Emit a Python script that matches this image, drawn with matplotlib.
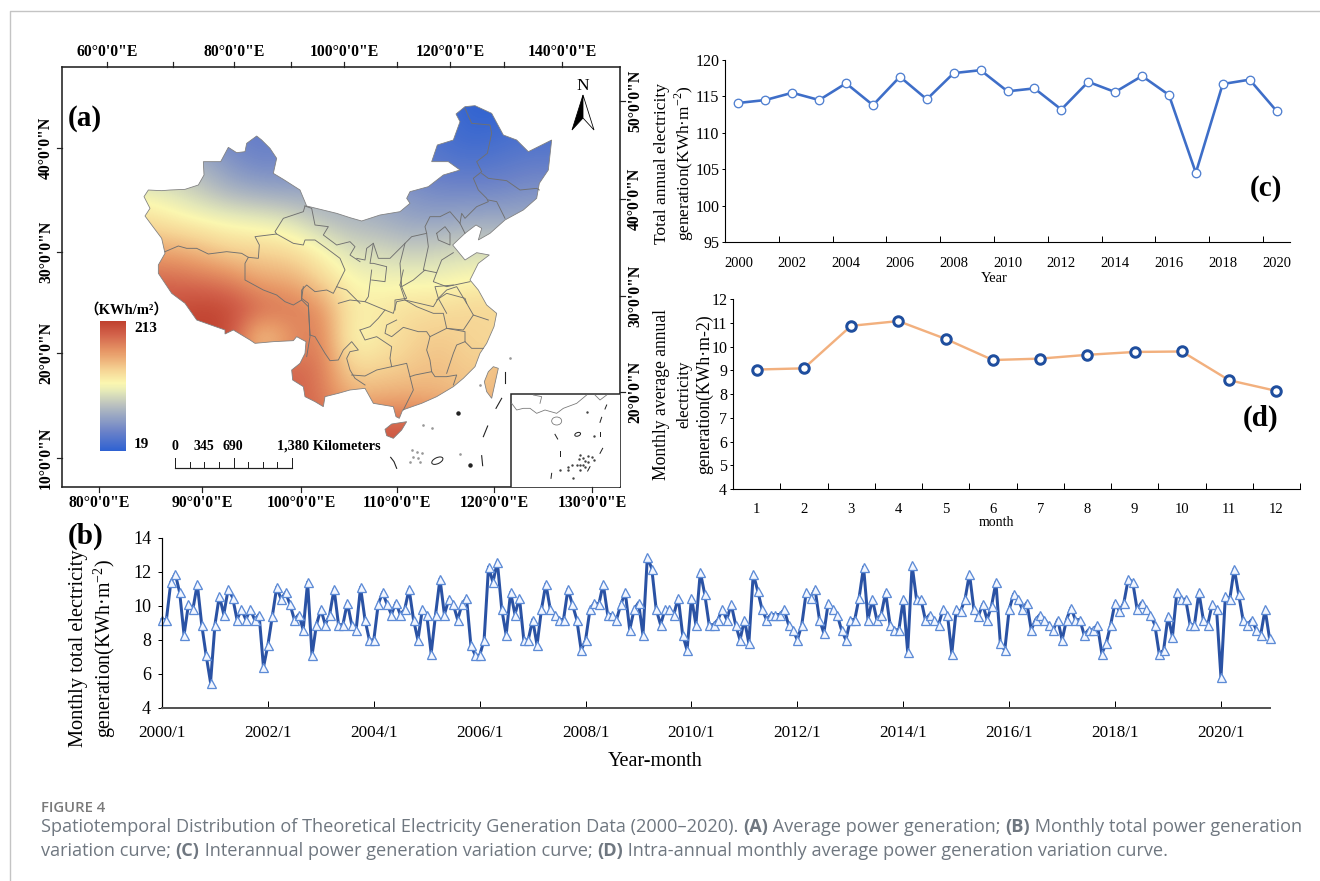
import numpy as np
import matplotlib
matplotlib.use("Agg")
import matplotlib.pyplot as plt
from matplotlib.colors import LinearSegmentedColormap, Normalize
from matplotlib.cm import ScalarMappable
from matplotlib.patches import PathPatch, Polygon, Ellipse, Rectangle
from matplotlib.path import Path

plt.rcParams['font.family'] = ['Liberation Serif', 'Noto Sans CJK SC', 'DejaVu Sans']
plt.rcParams['mathtext.fontset'] = 'custom'
plt.rcParams['mathtext.rm'] = 'Liberation Serif'

# monthly series 2000/1 - 2020/12, two years per row
monthly = [
    9.2, 9.2, 11.4, 11.9, 10.8, 8.3, 10.1, 9.8, 11.3, 8.9, 7.1, 5.5, 8.9, 10.6, 9.5, 11.0, 10.5, 9.2, 9.8, 9.2, 9.8, 9.2, 9.5, 6.4,
    7.7, 9.4, 11.1, 10.4, 10.8, 10.1, 9.2, 9.5, 8.6, 11.4, 7.1, 8.9, 9.8, 8.9, 9.5, 11.0, 8.9, 8.9, 10.2, 8.9, 8.6, 11.1, 9.2, 8.0,
    8.0, 10.1, 10.8, 10.1, 9.5, 10.2, 9.5, 9.8, 11.0, 9.2, 8.0, 9.8, 9.5, 7.2, 9.5, 11.6, 9.5, 10.4, 10.1, 9.2, 10.1, 10.5, 7.7, 7.1,
    7.1, 8.0, 12.3, 11.4, 12.6, 9.8, 8.3, 10.8, 9.5, 10.5, 8.0, 8.0, 9.2, 7.7, 9.8, 11.3, 9.8, 9.5, 9.2, 9.2, 11.0, 10.1, 9.2, 7.4,
    8.0, 9.8, 10.2, 10.1, 11.3, 9.5, 9.5, 9.2, 10.1, 10.8, 8.6, 9.8, 10.2, 8.3, 12.9, 12.2, 9.8, 8.9, 9.8, 9.8, 9.5, 10.5, 8.3, 7.4,
    10.5, 8.9, 12.0, 10.7, 8.9, 8.9, 9.2, 9.8, 9.2, 10.1, 8.9, 8.0, 9.2, 7.8, 11.9, 10.9, 9.8, 9.2, 9.5, 9.5, 9.5, 9.8, 8.9, 8.6,
    8.0, 8.9, 10.8, 10.5, 11.0, 9.2, 8.4, 10.2, 9.8, 9.5, 8.6, 8.0, 9.2, 9.2, 10.5, 12.3, 9.2, 10.4, 9.2, 9.5, 10.8, 8.9, 8.6, 8.6,
    10.4, 7.3, 12.4, 10.4, 10.4, 9.2, 9.5, 9.2, 8.9, 9.8, 9.5, 7.2, 9.8, 9.7, 10.4, 11.9, 9.8, 9.4, 10.1, 9.2, 10.0, 11.4, 7.8, 7.4,
    9.8, 10.7, 10.4, 9.8, 10.2, 8.6, 9.2, 9.5, 9.2, 8.9, 8.6, 9.2, 8.0, 9.2, 9.9, 9.2, 9.2, 8.3, 8.6, 8.6, 8.9, 7.2, 7.8, 8.9,
    10.2, 9.7, 10.2, 11.6, 11.4, 9.8, 10.2, 9.8, 9.5, 8.9, 7.2, 7.4, 9.4, 8.2, 10.8, 10.4, 10.4, 8.9, 8.9, 10.8, 9.2, 8.9, 10.1, 9.8,
    5.8, 10.6, 10.4, 12.2, 10.7, 9.2, 8.9, 9.2, 8.6, 8.3, 9.8, 8.1,
]
monthly_ticks = ['2000/1', '2002/1', '2004/1', '2006/1', '2008/1', '2010/1', '2012/1', '2014/1', '2016/1', '2018/1', '2020/1']

years = list(range(2000, 2021))
annual = [114.1, 114.5, 115.5, 114.5, 116.8, 113.8, 117.7, 114.6, 118.2, 118.6, 115.7, 116.1, 113.2, 117.0, 115.6, 117.8, 115.2, 104.5, 116.7, 117.3, 113.0]

months = list(range(1, 13))
month_avg = [9.03, 9.08, 10.87, 11.07, 10.32, 9.43, 9.49, 9.65, 9.77, 9.79, 8.58, 8.13]

# coarse reading of the raster, kWh/m2; nodes every 30 px from (140, 100)
raster_x = [140, 170, 200, 230, 260, 290, 320, 350, 380, 410, 440, 470, 500, 530, 560]
raster_y = [100, 130, 160, 190, 220, 250, 280, 310, 340, 370, 400, 430]
raster = [
    [50, 50, 45, 45, 42, 42, 40, 38, 38, 38, 35, 19, 19, 25, 25],
    [50, 50, 50, 48, 44, 48, 52, 52, 48, 40, 32, 24, 27, 33, 33],
    [77, 77, 77, 58, 48, 52, 58, 58, 54, 44, 38, 34, 38, 42, 42],
    [112, 106, 92, 77, 71, 67, 71, 73, 67, 58, 52, 52, 52, 58, 58],
    [135, 126, 120, 116, 112, 106, 87, 81, 77, 69, 69, 73, 73, 73, 73],
    [159, 159, 151, 139, 139, 135, 122, 102, 100, 93, 97, 100, 100, 100, 100],
    [190, 190, 184, 178, 159, 159, 139, 120, 116, 116, 116, 122, 122, 122, 122],
    [203, 203, 213, 209, 192, 184, 174, 126, 128, 135, 135, 139, 139, 139, 139],
    [207, 207, 213, 205, 125, 165, 184, 116, 126, 139, 145, 139, 135, 135, 135],
    [207, 207, 207, 207, 190, 194, 184, 139, 141, 145, 151, 141, 150, 174, 174],
    [190, 190, 190, 190, 190, 194, 184, 155, 159, 161, 155, 150, 150, 150, 150],
    [190, 190, 190, 190, 190, 194, 194, 194, 200, 200, 200, 190, 190, 190, 190],
]

west_edge = [(380, 18), (350, 40), (345, 65), (320, 68), (295, 52), (272, 95), (220, 95), (222, 135), (205, 165), (165, 178), (120, 180), (95, 182), (55, 180), (42, 200), (60, 235), (45, 258), (65, 285), (95, 325), (105, 370), (85, 405), (85, 430), (125, 490), (165, 520), (200, 570), (285, 600), (285, 612), (310, 600), (360, 630), (375, 640), (430, 635), (490, 632)]
south_edge = [(20, 200), (48, 215), (45, 250), (30, 280), (5, 300), (8, 330), (40, 350), (45, 380), (75, 395), (100, 410), (105, 380), (145, 370), (180, 360), (225, 355), (250, 400), (310, 410), (318, 440), (328, 445), (338, 420), (395, 400), (440, 380), (490, 350), (520, 325), (555, 290), (570, 250), (590, 220), (612, 170), (620, 130), (590, 105), (565, 60)]
east_edge = [(360, 570), (385, 520), (418, 495), (380, 488), (345, 510), (308, 465), (345, 430), (378, 405), (395, 415), (385, 450), (420, 430), (465, 390), (520, 360), (560, 325), (568, 280), (595, 240), (605, 150), (575, 165), (535, 185), (500, 150), (460, 135), (425, 70), (375, 47), (345, 50), (318, 72), (330, 95), (310, 150), (262, 165), (245, 215), (295, 215), (330, 240), (280, 255), (235, 290), (180, 305), (170, 325), (180, 340), (150, 365), (90, 375), (35, 393), (0, 383)]
north_edge = [(620, 250), (530, 228), (510, 180), (460, 148), (430, 130), (440, 85), (420, 55), (395, 30)]
taiwan = [(610, 290), (625, 295), (615, 340), (605, 385), (590, 365), (583, 335), (595, 305)]
hainan = [(285, 478), (305, 462), (350, 455), (335, 480), (310, 505), (290, 497)]

west_lines = [
    [(105, 365), (145, 348), (170, 355), (200, 355), (235, 372), (290, 365), (335, 370), (355, 382), (385, 385), (388, 345), (375, 320), (440, 312), (435, 305), (460, 265), (520, 245), (525, 228)],
    [(440, 312), (490, 340), (520, 345), (525, 330), (555, 330), (590, 355), (630, 385), (645, 420), (620, 470)],
    [(355, 382), (345, 400), (345, 450), (400, 480), (440, 495), (465, 515), (490, 525), (515, 510), (515, 480), (530, 465), (555, 485), (590, 480), (610, 490), (620, 470), (650, 480), (690, 520)],
    [(515, 510), (535, 530), (540, 620), (530, 680)],
    [(525, 228), (545, 235), (555, 285), (595, 290), (580, 315), (620, 345), (660, 335), (675, 350), (660, 375), (690, 395)],
]
south_lines = [
    [(60, 195), (75, 200), (105, 250), (120, 272), (145, 270), (160, 240), (185, 215), (205, 240), (180, 245), (170, 265), (180, 300), (195, 325), (225, 345)],
    [(60, 195), (55, 100), (35, 85), (40, 50)],
    [(145, 100), (180, 90), (225, 95), (285, 120), (310, 130), (320, 95), (345, 90), (380, 110), (430, 130), (460, 130), (470, 175), (520, 180), (550, 135), (595, 150)],
    [(210, 180), (240, 170), (265, 145), (285, 120)],
    [(210, 180), (225, 210), (260, 200), (305, 230), (300, 265), (305, 290), (260, 300), (225, 318), (185, 315)],
    [(320, 150), (290, 165), (285, 190), (305, 200), (340, 172), (385, 185), (410, 185), (420, 200), (470, 175), (525, 185), (525, 215), (545, 235), (580, 235)],
    [(420, 200), (410, 240), (420, 270), (425, 305)],
    [(305, 290), (350, 280), (360, 320), (375, 315), (425, 305), (435, 320), (470, 320), (500, 315), (490, 345)],
    [(360, 320), (370, 360), (340, 420)],
    [(525, 215), (500, 225), (490, 250), (470, 310)],
    [(550, 135), (530, 100), (500, 50), (470, 60), (445, 85), (470, 130)],
    [(330, 45), (345, 90), (430, 110), (445, 85), (435, 50), (490, 45)],
    [(245, 0), (235, 80), (225, 95)],
    [(330, 45), (340, 0)],
]
east_lines = [
    [(345, 55), (365, 100), (420, 105), (425, 130), (412, 190), (380, 215), (395, 245), (370, 265), (385, 300), (410, 325), (415, 335), (380, 350), (345, 385), (335, 370), (330, 400), (300, 365), (270, 380), (240, 380), (225, 410), (230, 430), (185, 440), (165, 460), (130, 495), (120, 505), (85, 505), (70, 460), (50, 475), (45, 510), (20, 505)],
    [(395, 250), (415, 265), (470, 272), (510, 300), (560, 295), (568, 300)],
    [(415, 330), (440, 335), (465, 385)],
    [(330, 400), (345, 430)],
    [(260, 430), (285, 410), (300, 430), (300, 465), (265, 450), (260, 430)],
    [(230, 430), (235, 470), (220, 540), (260, 548), (275, 510), (310, 488)],
    [(165, 460), (150, 520), (155, 590), (190, 570), (225, 540)],
    [(70, 460), (60, 520), (70, 520), (110, 530), (105, 575), (65, 570)],
    [(260, 548), (250, 575), (290, 590), (360, 575)],
    [(155, 590), (170, 625), (135, 630), (135, 660)],
    [(260, 630), (290, 610), (345, 625), (350, 640)],
]

sea_dashes = [[(645, 305), (645, 338)], [(635, 385), (618, 415)], [(593, 468), (580, 500)], [(575, 557), (578, 587)], [(302, 562), (312, 575), (320, 595)]]
sea_dots = [(503, 428), (540, 585)]
sea_specks = [(365, 540), (380, 545), (395, 550), (370, 560), (385, 565), (390, 575), (360, 575), (400, 465), (425, 475), (510, 552), (660, 265), (570, 345)]

inset_coast = [
    [(20, 55), (35, 75), (55, 70), (75, 70), (95, 85), (120, 75), (155, 85), (175, 70), (215, 55), (245, 30)],
    [(85, 30), (110, 35), (105, 55)],
    [(270, 30), (285, 45), (305, 30)],
]
inset_dashes = [[(305, 60), (300, 72)], [(290, 97), (285, 112)], [(150, 148), (158, 162)], [(285, 140), (285, 152)], [(293, 190), (285, 205)], [(165, 198), (165, 212)], [(140, 265), (138, 280)], [(255, 245), (248, 258)]]
inset_dots = [(245, 80), (267, 152), (225, 210), (235, 218), (250, 212), (262, 215), (268, 225), (222, 222), (240, 228), (250, 232), (215, 240), (200, 240), (190, 245), (225, 240), (235, 240), (165, 255), (188, 255), (205, 280), (225, 255), (240, 245)]

top_ticks = [107, 173, 234, 291, 344, 397, 450, 504, 562]
top_labels = {107: '60°0\'0"E', 234: '80°0\'0"E', 344: '100°0\'0"E', 450: '120°0\'0"E', 562: '140°0\'0"E'}
bottom_ticks = [99, 202, 301, 397, 494, 592]
bottom_labels = ['80°0\'0"E', '90°0\'0"E', '100°0\'0"E', '110°0\'0"E', '120°0\'0"E', '130°0\'0"E']
left_ticks = [148, 252, 353, 458]
left_labels = ['40°0\'0"N', '30°0\'0"N', '20°0\'0"N', '10°0\'0"N']
right_ticks = [101, 199, 296, 392]
right_labels = ['50°0\'0"N', '40°0\'0"N', '30°0\'0"N', '20°0\'0"N']
scale_km = [0, 172.5, 345, 517.5, 690, 862.5, 1035, 1207.5, 1380]

W, H = 1320, 881
PX = 0.72

fig = plt.figure(figsize=(W / 100, H / 100), dpi=100)


def box(left, top, right, bottom, **kw):
    return fig.add_axes([left / W, 1 - bottom / H, (right - left) / W, (bottom - top) / H], **kw)


def from_crop(points, x0, y0):
    return [(x0 + x / 3, y0 + y / 3) for x, y in points]


def west(points):
    return from_crop(points, 130, 130)


def south(points):
    return from_crop(points, 290, 270)


def east(points):
    return from_crop(points, 350, 90)


def inset(points):
    return from_crop(points, 505, 385)


# page layer in pixel coordinates, for all loose text
page = box(0, 0, W, H)
page.set_xlim(0, W)
page.set_ylim(H, 0)
page.axis('off')
page.set_zorder(10)
page.plot([10, 10, W], [H, 11, 11], color='#c4c4c4', lw=1.4 * PX)

# ---- (a) map ----
ax_map = box(62, 67, 620, 487)
ax_map.set_xticks([])
ax_map.set_yticks([])
for s in ax_map.spines.values():
    s.set_linewidth(1.6 * PX)
    s.set_color('#222222')

cmap = LinearSegmentedColormap.from_list('gen', [
    (0.0, '#2f62d2'), (0.15, '#6b82c8'), (0.35, '#b9c0bf'), (0.46, '#e4e8b8'),
    (0.52, '#fbf7b0'), (0.62, '#f6d595'), (0.76, '#e89a68'), (0.9, '#d2614a'), (1.0, '#c0412f')])
norm = Normalize(19, 213)

img = ax_map.imshow(raster, cmap=cmap, norm=norm, interpolation='bicubic', aspect='auto',
                    extent=[raster_x[0] - 15, raster_x[-1] + 15, raster_y[-1] + 15, raster_y[0] - 15])
ax_map.set_xlim(62, 620)
ax_map.set_ylim(487, 67)

mainland = west(west_edge) + south(south_edge) + east(east_edge) + west(north_edge)
rings = [mainland, south(taiwan), south(hainan)]
verts, codes = [], []
for ring in rings:
    verts += ring + [ring[0]]
    codes += [Path.MOVETO] + [Path.LINETO] * (len(ring) - 1) + [Path.CLOSEPOLY]
china = Path(verts, codes)
img.set_clip_path(PathPatch(china, transform=ax_map.transData))
ax_map.add_patch(PathPatch(china, fc='none', ec='#808080', lw=0.8 * PX))

for lines, conv in [(west_lines, west), (south_lines, south), (east_lines, east)]:
    for line in lines:
        xy = conv(line)
        ax_map.plot([p[0] for p in xy], [p[1] for p in xy], color='#707070', lw=0.9 * PX, zorder=3)

for line in sea_dashes:
    xy = south(line)
    ax_map.plot([p[0] for p in xy], [p[1] for p in xy], color='#222222', lw=1.1 * PX, zorder=3)
for p in south(sea_dots):
    ax_map.plot(*p, 'o', color='#222222', ms=2.2, zorder=3)
for p in south(sea_specks):
    ax_map.plot(*p, 'o', color='#999999', ms=0.9, zorder=3)
ax_map.add_patch(Ellipse(south([(442, 572)])[0], 12, 6, angle=-25, fc='white', ec='#222222', lw=1 * PX))

# inset panel
ax_map.add_patch(Rectangle((511, 394), 110, 94, fc='white', ec='#222222', lw=1.5 * PX, zorder=4))
for line in inset_coast:
    xy = inset(line)
    ax_map.plot([p[0] for p in xy], [p[1] for p in xy], color='#777777', lw=0.8 * PX, zorder=5)
for line in inset_dashes:
    xy = inset(line)
    ax_map.plot([p[0] for p in xy], [p[1] for p in xy], color='#222222', lw=1 * PX, zorder=5)
for p in inset(inset_dots):
    ax_map.plot(*p, 's', color='#444444', ms=0.7, zorder=5)
ax_map.add_patch(Ellipse(inset([(155, 108)])[0], 10, 8, fc='white', ec='#777777', lw=0.8 * PX, zorder=5))
ax_map.add_patch(Ellipse(inset([(218, 148)])[0], 6, 3.5, angle=-20, fc='white', ec='#222222', lw=1 * PX, zorder=5))

# north arrow
ax_map.add_patch(Polygon([(583, 95), (572, 130), (583, 118)], fc='black', ec='black', lw=0.8 * PX, zorder=5))
ax_map.add_patch(Polygon([(583, 95), (594, 130), (583, 118)], fc='white', ec='black', lw=0.8 * PX, zorder=5))
page.text(583, 86, 'N', ha='center', va='center', fontsize=12.5)

# scale bar
sx = [175 + k * 117 / scale_km[-1] for k in scale_km]
ax_map.plot([sx[0], sx[-1]], [468, 468], color='#222222', lw=1.2 * PX)
for i, x in enumerate(sx):
    ax_map.plot([x, x], [468, 458 if i % 4 == 0 else 462], color='#222222', lw=1 * PX)
for x, t in [(175, '0'), (204, '345'), (233, '690')]:
    page.text(x, 446, t, ha='center', va='center', fontsize=10, fontweight='bold')
page.text(277, 446, '1,380 Kilometers', ha='left', va='center', fontsize=10.3, fontweight='bold')

# legend ramp
ax_ramp = box(100, 321, 126, 451)
fig.colorbar(ScalarMappable(norm=norm, cmap=cmap), cax=ax_ramp)
ax_ramp.set_yticks([])
ax_ramp.spines[:].set_visible(False)
page.text(126, 310, '（KWh/m²）', ha='center', va='center', fontsize=10.5, fontweight='bold')
page.text(134, 329, '213', ha='left', va='center', fontsize=11, fontweight='bold')
page.text(134, 444, '19', ha='left', va='center', fontsize=11, fontweight='bold')

# frame ticks and labels
for x in top_ticks:
    page.plot([x, x], [67, 62], color='#222222', lw=1.2 * PX)
    if x in top_labels:
        page.text(x, 52, top_labels[x], ha='center', va='center', fontsize=11.3, fontweight='bold')
for x, t in zip(bottom_ticks, bottom_labels):
    page.plot([x, x], [487, 492], color='#222222', lw=1.2 * PX)
    page.text(x, 503, t, ha='center', va='center', fontsize=11.3, fontweight='bold')
for y, t in zip(left_ticks, left_labels):
    page.plot([57, 62], [y, y], color='#222222', lw=1.2 * PX)
    page.text(46, y, t, ha='center', va='center', rotation=90, fontsize=11.3, fontweight='bold')
for y, t in zip(right_ticks, right_labels):
    page.plot([620, 625], [y, y], color='#222222', lw=1.2 * PX)
    page.text(635, y, t, ha='center', va='center', rotation=90, fontsize=11.3, fontweight='bold')
page.text(68, 118, '(a)', ha='left', va='center', fontsize=21, fontweight='bold')

# ---- (b) monthly ----
ax_b = box(162, 538, 1269.5, 708)
ax_b.plot(range(len(monthly)), monthly, color='#2a52a4', lw=3 * PX, marker='^', ms=9 * PX,
          mfc='#f2f6ff', mec='#5d8bd6', mew=1.3 * PX, clip_on=False)
ax_b.set_xlim(0, 251)
ax_b.set_ylim(4, 14)
ax_b.set_xticks(range(0, 241, 24), monthly_ticks)
ax_b.set_yticks(range(4, 15, 2))
ax_b.tick_params(axis='x', direction='in', length=7 * PX, width=1 * PX, labelsize=12.3, pad=12)
ax_b.tick_params(axis='y', direction='out', length=4 * PX, width=1 * PX, labelsize=13, pad=5)
ax_b.patch.set_alpha(0)
for s in ['top', 'right']:
    ax_b.spines[s].set_visible(False)
ax_b.spines['bottom'].set_color('#555555')
ax_b.spines['bottom'].set_linewidth(2 * PX)
ax_b.spines['left'].set_linewidth(1.2 * PX)
page.text(79, 648, 'Monthly total electricity', rotation=90, ha='center', va='center', fontsize=14.7)
page.text(105, 649, 'generation(KWh·m$^{-2}$)', rotation=90, ha='center', va='center', fontsize=14.3)
page.text(655, 761, 'Year-month', ha='center', va='center', fontsize=14.5)
page.text(68, 536, '(b)', ha='left', va='center', fontsize=21, fontweight='bold')

# ---- (c) annual ----
ax_c = box(725, 60, 1290, 242)
ax_c.plot(range(len(years)), annual, color='#3e6ec8', lw=2.6 * PX, marker='o', ms=8.5 * PX,
          mfc='white', mec='#4f7fd0', mew=1.3 * PX, clip_on=False)
ax_c.set_xlim(-0.5, 20.5)
ax_c.set_ylim(95, 120)
ax_c.set_xticks(np.arange(-0.5, 20.6, 2))
ax_c.set_xticks(range(0, 21, 2), [str(y) for y in years[::2]], minor=True)
ax_c.set_xticklabels([])
ax_c.tick_params(axis='x', which='major', direction='in', length=6 * PX, width=1 * PX)
ax_c.tick_params(axis='x', which='minor', length=0, labelsize=10.5, pad=11)
ax_c.set_yticks(range(95, 121, 5))
ax_c.tick_params(axis='y', direction='out', length=3 * PX, width=1 * PX, labelsize=11.5, pad=2)
ax_c.patch.set_alpha(0)
for s in ['top', 'right']:
    ax_c.spines[s].set_visible(False)
page.text(662, 164, 'Total annual electricity', rotation=90, ha='center', va='center', fontsize=12.6)
page.text(684, 163, 'generation(KWh·m$^{-2}$)', rotation=90, ha='center', va='center', fontsize=12.4)
page.text(994, 278, 'Year', ha='center', va='center', fontsize=10.5)
page.text(1250, 189, '(c)', ha='left', va='center', fontsize=21, fontweight='bold')

# ---- (d) intra-annual ----
ax_d = box(733, 299, 1300, 489)
ax_d.plot(months, month_avg, color='#f2b07e', lw=2.4 * PX, marker='o', ms=9.5 * PX,
          mfc='white', mec='#1f4e9e', mew=3 * PX, clip_on=False)
ax_d.set_xlim(0.5, 12.5)
ax_d.set_ylim(4, 12)
ax_d.set_xticks(np.arange(0.5, 12.6, 1))
ax_d.set_xticks(months, [str(m) for m in months], minor=True)
ax_d.set_xticklabels([])
ax_d.tick_params(axis='x', which='major', direction='in', length=6 * PX, width=1 * PX)
ax_d.tick_params(axis='x', which='minor', length=0, labelsize=10.5, pad=10)
ax_d.set_yticks(range(4, 13))
ax_d.tick_params(axis='y', direction='out', length=3 * PX, width=1 * PX, labelsize=11.5, pad=2)
ax_d.patch.set_alpha(0)
for s in ['top', 'right']:
    ax_d.spines[s].set_visible(False)
page.text(662, 394, 'Monthly average annual', rotation=90, ha='center', va='center', fontsize=12.7)
page.text(684, 394, 'electricity', rotation=90, ha='center', va='center', fontsize=12.2)
page.text(705, 394, 'generation(KWh·m-2)', rotation=90, ha='center', va='center', fontsize=12.8)
page.text(996, 522, 'month', ha='center', va='center', fontsize=10)
page.text(1243, 418, '(d)', ha='left', va='center', fontsize=21, fontweight='bold')

# ---- caption ----
cap_color = '#6f7780'
page.text(41, 808, 'FIGURE 4', ha='left', va='center', fontsize=10.7, family='Open Sans',
          fontweight='semibold', color='#7a7a7a')
line_one = [('Spatiotemporal Distribution of Theoretical Electricity Generation Data (2000–2020). ', 'normal'),
            ('(A)', 'bold'), (' Average power generation; ', 'normal'), ('(B)', 'bold'),
            (' Monthly total power generation', 'normal')]
line_two = [('variation curve; ', 'normal'), ('(C)', 'bold'), (' Interannual power generation variation curve; ', 'normal'),
            ('(D)', 'bold'), (' Intra-annual monthly average power generation variation curve.', 'normal')]
rend = fig.canvas.get_renderer()
for y, parts in [(827, line_one), (851, line_two)]:
    x = 41
    for s, w in parts:
        t = page.text(x, y, s.replace(' ', '\u00a0'), ha='left', va='center', fontsize=13.1,
                      family='Open Sans', fontweight=w, color=cap_color, clip_on=True)
        x += t.get_window_extent(rend).width

fig.savefig('out.png', dpi=100)
